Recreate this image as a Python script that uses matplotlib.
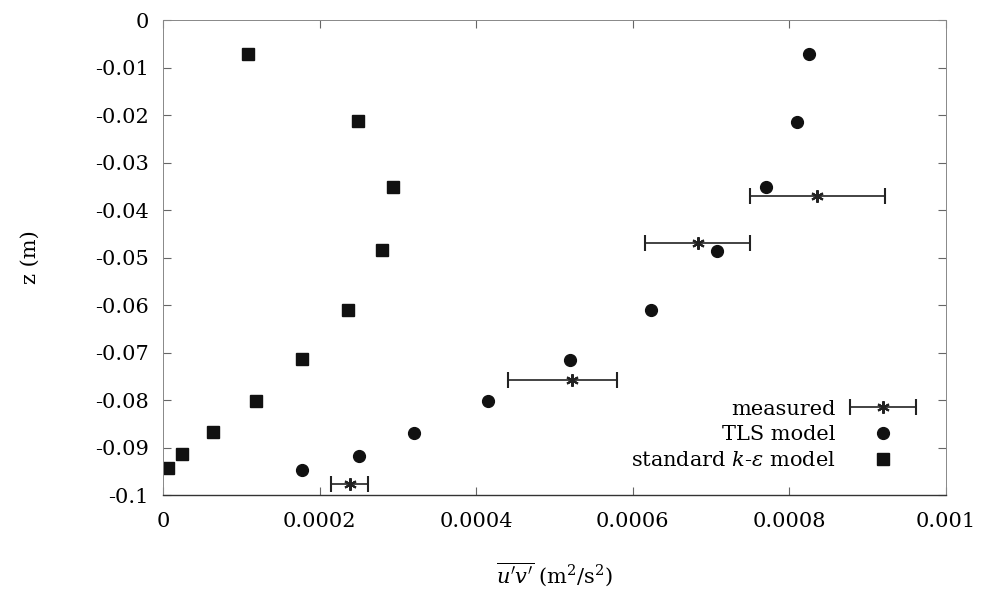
import matplotlib.pyplot as plt
from matplotlib.ticker import FuncFormatter
from matplotlib.legend_handler import HandlerErrorbar
from matplotlib.container import ErrorbarContainer

plt.rcParams['font.family'] = 'DejaVu Serif'
plt.rcParams['mathtext.fontset'] = 'dejavuserif'
plt.rcParams['axes.unicode_minus'] = False

# measured values with horizontal error bars
meas_x = [0.000835, 0.000683, 0.000522, 0.000239]
meas_z = [-0.0371, -0.0469, -0.0758, -0.0977]
meas_lo = [0.000750, 0.000616, 0.000441, 0.000215]
meas_hi = [0.000923, 0.000750, 0.000580, 0.000262]

# TLS model
tls_x = [0.000825, 0.000810, 0.000771, 0.000708, 0.000623,
         0.000520, 0.000415, 0.000321, 0.000250, 0.000178]
tls_z = [-0.0072, -0.0215, -0.0352, -0.0486, -0.0611,
         -0.0716, -0.0802, -0.0869, -0.0918, -0.0947]

# standard k-eps model
ke_x = [0.000109, 0.000249, 0.000294, 0.000280, 0.000236,
        0.000178, 0.000119, 0.0000639, 0.0000243, 0.0000064]
ke_z = [-0.0072, -0.0213, -0.0352, -0.0484, -0.0611,
        -0.0714, -0.0802, -0.0867, -0.0914, -0.0943]

fig = plt.figure(figsize=(9.82, 5.9), dpi=100)
ax = fig.add_axes([0.166, 0.161, 0.797, 0.805])

xerr = [[m - lo for m, lo in zip(meas_x, meas_lo)],
        [hi - m for m, hi in zip(meas_x, meas_hi)]]
meas_handle = ax.errorbar(meas_x, meas_z, xerr=xerr, linestyle='none',
                          marker=(6, 2, 0), markersize=9, color='#222222',
                          markeredgewidth=1.5, elinewidth=1.2, capsize=5.5,
                          capthick=1.2)
tls_handle, = ax.plot(tls_x, tls_z, 'o', color='#111111', markersize=8.5)
ke_handle, = ax.plot(ke_x, ke_z, 's', color='#111111', markersize=8)

ax.set_xlim(0, 0.001)
ax.set_ylim(-0.1, 0)
ax.set_xticks([0, 0.0002, 0.0004, 0.0006, 0.0008, 0.001])
ax.set_yticks([-0.01 * i for i in range(11)])


def fmt_tick(v, p):
    v = round(v, 6)
    if v == 0:
        return '0'
    return '%g' % v


fmt = FuncFormatter(fmt_tick)
ax.xaxis.set_major_formatter(fmt)
ax.yaxis.set_major_formatter(fmt)
ax.tick_params(direction='in', top=True, right=True, length=6,
               width=0.8, color='#666666', labelsize=15)
ax.tick_params(axis='x', pad=12)
ax.tick_params(axis='y', pad=10)
for s in ax.spines.values():
    s.set_color('#888888')
    s.set_linewidth(0.7)
ax.spines['bottom'].set_color('#333333')
ax.spines['bottom'].set_linewidth(1.0)

ax.set_xlabel(r"$\overline{u^\prime v^\prime}$ (m$^2$/s$^2$)", fontsize=15,
              labelpad=21)
ax.set_ylabel("z (m)", fontsize=15, labelpad=40)

ax.legend([meas_handle, tls_handle, ke_handle],
          ['measured', 'TLS model', r'standard $k$-$\varepsilon$ model'],
          loc='lower right', frameon=False, markerfirst=False, fontsize=15,
          handlelength=3.4, handletextpad=0.6, labelspacing=0.32,
          borderaxespad=0.0, bbox_to_anchor=(0.976, 0.035),
          handler_map={ErrorbarContainer: HandlerErrorbar(xerr_size=1.6)})

fig.savefig('out.png', dpi=100)
